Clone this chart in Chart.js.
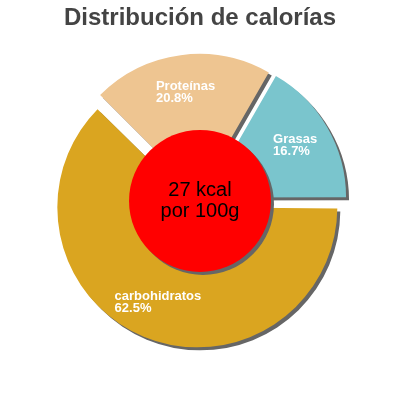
<!DOCTYPE html>
<html>
<head>
<meta charset="utf-8">
<script src="https://cdn.jsdelivr.net/npm/chart.js@4"></script>
<style>
  html, body { margin: 0; padding: 0; background: #fff; }
  #wrap { width: 400px; height: 400px; }
</style>
</head>
<body>
<div id="wrap"><canvas id="pieChart" width="400" height="400"></canvas></div>
<script>
let labels = ["carbohidratos", "Proteínas", "Grasas"];
let percents = [62.5, 20.8, 16.7];
let colors = ["#DAA520", "#EEC591", "#7AC5CD"];
let centerLines = ["27 kcal", "por 100g"];
let titleText = "Distribución de calorías";

let font = "'Liberation Sans', Arial, sans-serif";
let explode = 7; // px each slice is pushed out

// shadow under every slice; also stops chart.js growing big slices when exploded
let shadowPlugin = {
    id: 'shadow',
    beforeDatasetDraw(chart, args) {
        let ctx = chart.ctx;
        args.meta.data.forEach(arc => {
            let c = arc.endAngle - arc.startAngle;
            arc._fixR = (arc.options.offset / 4) * (1 - Math.sin(Math.min(Math.PI, c)));
            arc.outerRadius -= arc._fixR;
        });
        ctx.save();
        ctx.shadowColor = '#666666';
        ctx.shadowOffsetX = 3;
        ctx.shadowOffsetY = 3;
        ctx.shadowBlur = 0;
    },
    afterDatasetDraw(chart, args) {
        chart.ctx.restore();
        args.meta.data.forEach(arc => {
            arc.outerRadius += arc._fixR;
        });
    }
};

// slice labels + red center disc
let labelPlugin = {
    id: 'labels',
    afterDatasetsDraw(chart) {
        let ctx = chart.ctx;
        let arcs = chart.getDatasetMeta(0).data;

        ctx.save();
        ctx.fillStyle = '#fff';
        ctx.font = "bold 13px " + font;
        ctx.textBaseline = 'middle';
        ctx.textAlign = 'left';
        arcs.forEach((arc, i) => {
            let mid = (arc.startAngle + arc.endAngle) / 2;
            let r = arc.outerRadius * 0.735 + explode;
            let cx = arc.x + Math.cos(mid) * r;
            let cy = arc.y + Math.sin(mid) * r;
            let l1 = labels[i];
            let l2 = percents[i].toFixed(1) + "%";
            let w = Math.max(ctx.measureText(l1).width, ctx.measureText(l2).width);
            ctx.fillText(l1, cx - w / 2, cy - 6);
            ctx.fillText(l2, cx - w / 2, cy + 6);
        });
        ctx.restore();

        let a = arcs[0];
        let cx = a.x, cy = a.y;
        let rr = a.outerRadius * 0.507;
        ctx.save();
        ctx.shadowColor = '#666666';
        ctx.shadowOffsetX = 3;
        ctx.shadowOffsetY = 3;
        ctx.beginPath();
        ctx.arc(cx, cy, rr, 0, Math.PI * 2);
        ctx.fillStyle = '#FF0000';
        ctx.fill();
        ctx.restore();

        ctx.save();
        ctx.fillStyle = '#000';
        ctx.font = "20px " + font;
        ctx.textAlign = 'center';
        ctx.textBaseline = 'middle';
        ctx.fillText(centerLines[0], cx, cy - 10);
        ctx.fillText(centerLines[1], cx, cy + 11);
        ctx.restore();
    }
};

let myPie = new Chart(document.getElementById("pieChart").getContext('2d'), {
    type: 'pie',
    data: {
        labels: labels,
        datasets: [{
            data: percents,
            backgroundColor: colors,
            borderWidth: 0,
            offset: explode * 4
        }]
    },
    options: {
        responsive: false,
        animation: false,
        rotation: 90,
        radius: 140,
        layout: { padding: { bottom: 35 } },
        plugins: {
            legend: { display: false },
            tooltip: { enabled: false },
            title: {
                display: true,
                text: titleText,
                color: '#444444',
                font: { family: font, size: 24, weight: 'bold' },
                padding: { top: 4, bottom: 4 }
            }
        }
    },
    plugins: [shadowPlugin, labelPlugin]
});
</script>
</body>
</html>
